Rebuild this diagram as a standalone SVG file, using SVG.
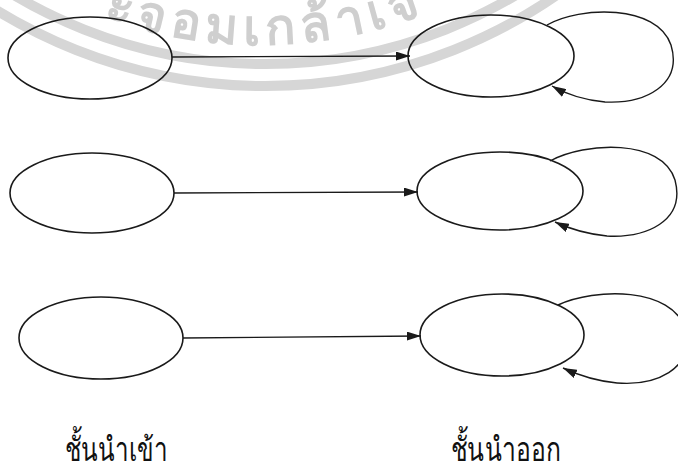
<svg xmlns="http://www.w3.org/2000/svg" width="678" height="472" viewBox="0 0 678 472">
<style>
.node{fill:none;stroke:#1a1a1a;stroke-width:1.6}
.edge{fill:none;stroke:#1a1a1a;stroke-width:1.4}
.wm{fill:none;stroke:#d6d6d6;stroke-width:10}
.wmt{fill:#cfcfcf;font-family:"Noto Sans",sans-serif;font-weight:bold;font-size:50px;letter-spacing:6px}
.lbl{fill:#111;font-family:"Noto Sans",sans-serif;font-size:33px}
</style>
<defs>
<marker id="ah" viewBox="0 0 14 9" refX="14" refY="4.5" markerWidth="14" markerHeight="9" markerUnits="userSpaceOnUse" orient="auto">
<path d="M0,0 L14,4.5 L0,9 Z" fill="#1a1a1a"/>
</marker>
<path id="wmPath" d="M90,13 A466,466 0 0 0 450,4"/>
</defs>
<rect width="678" height="472" fill="#fff"/>
<g id="watermark">
<circle class="wm" cx="265" cy="-427" r="491"/>
<circle class="wm" cx="265" cy="-427" r="513"/>
<text class="wmt"><textPath href="#wmPath" startOffset="14">ะจอมเกล้าเจ</textPath></text>
</g>
<g id="connectors">
<line class="edge" x1="172" y1="57" x2="410" y2="56" marker-end="url(#ah)"/>
<line class="edge" x1="174" y1="193" x2="418" y2="192" marker-end="url(#ah)"/>
<line class="edge" x1="183" y1="338" x2="421" y2="336" marker-end="url(#ah)"/>
<path class="edge" d="M547,25 C580,6 657,4 671,45 C683,85 645,104 605,102 C583,100 566,94 552,86" marker-end="url(#ah)"/>
<path class="edge" d="M550,161 C585,142 662,138 675,180 C686,222 645,238 607,236 C587,234 570,229 555,222" marker-end="url(#ah)"/>
<path class="edge" d="M558,305 C595,288 672,286 686,330 C694,370 655,386 617,383 C596,381 578,375 563,368" marker-end="url(#ah)"/>
</g>
<g id="in1"><ellipse class="node" cx="90" cy="58" rx="82" ry="41"/></g>
<g id="in2"><ellipse class="node" cx="92" cy="193" rx="82" ry="40"/></g>
<g id="in3"><ellipse class="node" cx="101" cy="338" rx="82" ry="41"/></g>
<g id="out1"><ellipse class="node" cx="491" cy="56" rx="83" ry="41"/></g>
<g id="out2"><ellipse class="node" cx="500" cy="191" rx="83" ry="39"/></g>
<g id="out3"><ellipse class="node" cx="502" cy="335" rx="82" ry="41"/></g>
<g id="labels">
<text class="lbl" x="65" y="461" textLength="103" lengthAdjust="spacingAndGlyphs">ชั้นนำเข้า</text>
<text class="lbl" x="451" y="461" textLength="110" lengthAdjust="spacingAndGlyphs">ชั้นนำออก</text>
</g>
</svg>
